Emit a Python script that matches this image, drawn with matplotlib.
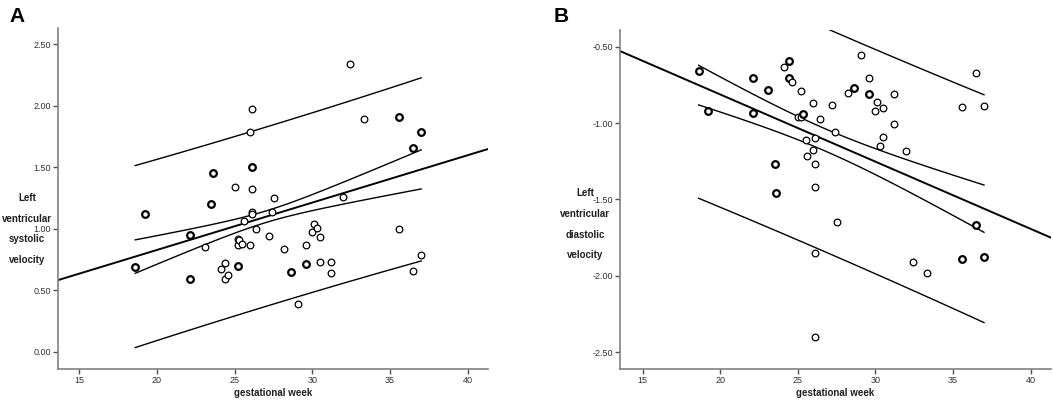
import numpy as np
import matplotlib
matplotlib.use('Agg')
import matplotlib.pyplot as plt

plt.rcParams['font.family'] = ['Liberation Sans', 'DejaVu Sans']

# panel A: gestational week vs left ventricular systolic velocity
weekA = [18.6, 18.6, 19.2, 19.2, 22.1, 22.1, 22.1, 22.1, 23.1, 23.5, 23.5, 23.6, 23.6,
         24.1, 24.4, 24.4, 24.6, 25.0, 25.2, 25.2, 25.2, 25.2, 25.3, 25.5, 25.6,
         26.0, 26.0, 26.1, 26.1, 26.1, 26.1, 26.1, 26.1, 26.4, 27.2, 27.4, 27.5,
         28.2, 28.6, 28.6, 29.1, 29.6, 29.6, 29.6, 30.0, 30.1, 30.3, 30.5, 30.5,
         31.2, 31.2, 32.0, 32.4, 33.3, 35.6, 35.6, 35.6, 36.5, 36.5, 36.5, 37.0, 37.0, 37.0]
velA = [0.69, 0.69, 1.12, 1.12, 0.95, 0.95, 0.59, 0.59, 0.85, 1.20, 1.20, 1.45, 1.45,
        0.675, 0.72, 0.594, 0.626, 1.34, 0.92, 0.694, 0.694, 0.87, 0.91, 0.88, 1.06,
        1.79, 0.87, 1.97, 1.50, 1.50, 1.32, 1.14, 1.12, 1.00, 0.94, 1.14, 1.25,
        0.835, 0.65, 0.65, 0.39, 0.87, 0.71, 0.71, 0.976, 1.04, 1.01, 0.93, 0.727,
        0.73, 0.64, 1.26, 2.34, 1.89, 1.91, 1.91, 1.00, 1.66, 1.66, 0.656, 1.79, 1.79, 0.79]

# panel B: gestational week vs left ventricular diastolic velocity
weekB = [18.6, 18.6, 19.2, 19.2, 22.1, 22.1, 22.1, 22.1, 23.1, 23.1, 23.5, 23.5, 23.6, 23.6,
         24.1, 24.4, 24.4, 24.4, 24.4, 24.6, 25.0, 25.2, 25.2, 25.3, 25.3, 25.5, 25.6,
         26.0, 26.0, 26.1, 26.1, 26.1, 26.1, 26.1, 26.4, 27.2, 27.4, 27.5, 28.2,
         28.6, 28.6, 29.1, 29.6, 29.6, 29.6, 30.0, 30.1, 30.3, 30.5, 30.5, 31.2, 31.2,
         32.0, 32.4, 33.3, 35.6, 35.6, 35.6, 36.5, 36.5, 36.5, 37.0, 37.0, 37.0]
velB = [-0.66, -0.66, -0.92, -0.92, -0.705, -0.705, -0.937, -0.937, -0.784, -0.784,
        -1.265, -1.265, -1.46, -1.46,
        -0.63, -0.59, -0.59, -0.705, -0.705, -0.73, -0.96, -0.79, -0.96, -0.94, -0.94,
        -1.11, -1.215, -0.867, -1.175, -1.095, -1.267, -1.418, -1.853, -2.40, -0.974,
        -0.88, -1.057, -1.65, -0.806, -0.769, -0.769, -0.557, -0.705, -0.808, -0.808,
        -0.92, -0.86, -1.15, -0.904, -1.09, -0.81, -1.003,
        -1.184, -1.91, -1.98, -0.893, -1.89, -1.89, -0.67, -1.67, -1.67, -0.885, -1.88, -1.88]

# regression summaries:
# intercept, slope, t*s, centre of mean band, half width at centre, curvature
fitA = dict(a=0.058, b=0.0385, ts=0.727, x0=27.0, cmid=0.047, k=0.00023)
fitB = dict(a=0.0673, b=-0.044, ts=0.73, x0=26.7, cmid=0.073, k=0.000176)

xticks = [15, 20, 25, 30, 35, 40]
yticksA = [0.0, 0.5, 1.0, 1.5, 2.0, 2.5]
yticksB = [-2.5, -2.0, -1.5, -1.0, -0.5]


def draw(ax, x, y, fit, xlim, ylim, yticks, ylabel, lab_pos):
    x = np.asarray(x); y = np.asarray(y)
    xs = np.linspace(x.min(), x.max(), 100)
    xl = np.array(xlim)
    yhat = fit['a'] + fit['b']*xs
    ci = np.sqrt(fit['cmid']**2 + fit['k']*(xs - fit['x0'])**2)
    pi = np.sqrt(fit['ts']**2 + ci**2)
    ax.plot(xl, fit['a'] + fit['b']*xl, color='black', lw=1.4, zorder=2)
    for sgn in (1, -1):
        ax.plot(xs, yhat + sgn*ci, color='black', lw=1.0, zorder=2)
        ax.plot(xs, yhat + sgn*pi, color='black', lw=1.0, zorder=2)
    # repeated points are drawn with a heavier outline
    pts = {}
    for xi, yi in zip(x, y):
        pts[(xi, yi)] = pts.get((xi, yi), 0) + 1
    for (xi, yi), c in pts.items():
        ax.plot(xi, yi, 'o', mfc='white', mec='black', ms=4.8,
                mew=0.9 if c == 1 else 1.6, zorder=3)
    ax.set_xlim(xlim)
    ax.set_ylim(ylim)
    ax.set_xticks(xticks)
    ax.set_yticks(yticks)
    ax.set_yticklabels(['%.2f' % v for v in yticks])
    for sp in ['top', 'right']:
        ax.spines[sp].set_visible(False)
    for sp in ['left', 'bottom']:
        ax.spines[sp].set_color('#808080')
        ax.spines[sp].set_linewidth(1.2)
    ax.tick_params(colors='#505050', labelsize=6.5, length=3.5, width=1.0, pad=1.5,
                   labelcolor='#303030')
    ax.set_xlabel('gestational week', fontsize=7, fontweight='bold', labelpad=2, color='#202020')
    ax.text(lab_pos[0], lab_pos[1], ylabel, transform=ax.transAxes, ha='center', va='center',
            fontsize=7, fontweight='bold', linespacing=2.35, color='#202020')


fig = plt.figure(figsize=(10.53, 4.0), dpi=100)
axA = fig.add_axes([0.0551, 0.078, 0.4083, 0.853])
axB = fig.add_axes([0.5888, 0.078, 0.409, 0.847])

draw(axA, weekA, velA, fitA, (13.63, 41.3), (-0.138, 2.635), yticksA,
     'Left\nventricular\nsystolic\nvelocity', (-0.072, 0.41))
draw(axB, weekB, velB, fitB, (13.53, 41.3), (-2.61, -0.39), yticksB,
     'Left\nventricular\ndiastolic\nvelocity', (-0.081, 0.427))

fig.text(0.009, 0.958, 'A', fontsize=15, fontweight='bold', va='center')
fig.text(0.526, 0.958, 'B', fontsize=15, fontweight='bold', va='center')

fig.savefig('out.png', dpi=100)
